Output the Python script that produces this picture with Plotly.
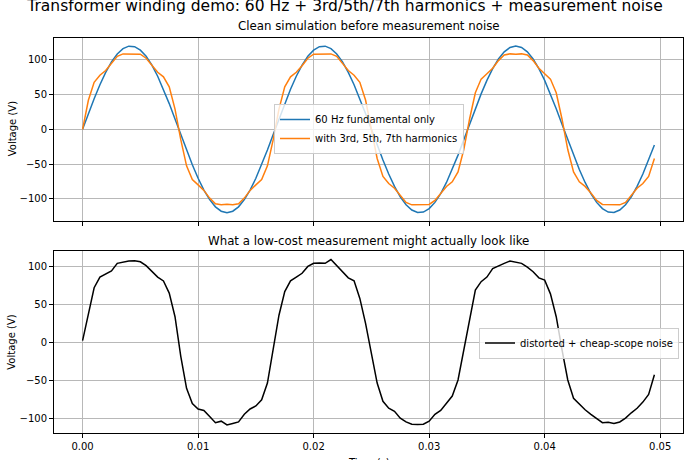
import plotly.graph_objects as go

# ---------------- data ----------------
time_s = [round(i * 0.0005, 4) for i in range(100)]

fundamental_v = [
    0, 22.5, 44.2, 64.3, 82.1, 97.1, 108.6, 116.2, 119.8, 119.1,
    114.1, 105.2, 92.5, 76.5, 57.8, 37.1, 15.0, -7.5, -29.8, -51.1,
    -70.5, -87.5, -101.3, -111.6, -117.9, -120.0, -117.9, -111.6, -101.3, -87.5,
    -70.5, -51.1, -29.8, -7.5, 15.0, 37.1, 57.8, 76.5, 92.5, 105.2,
    114.1, 119.1, 119.8, 116.2, 108.6, 97.1, 82.1, 64.3, 44.2, 22.5,
    0, -22.5, -44.2, -64.3, -82.1, -97.1, -108.6, -116.2, -119.8, -119.1,
    -114.1, -105.2, -92.5, -76.5, -57.8, -37.1, -15.0, 7.5, 29.8, 51.1,
    70.5, 87.5, 101.3, 111.6, 117.9, 120.0, 117.9, 111.6, 101.3, 87.5,
    70.5, 51.1, 29.8, 7.5, -15.0, -37.1, -57.8, -76.5, -92.5, -105.2,
    -114.1, -119.1, -119.8, -116.2, -108.6, -97.1, -82.1, -64.3, -44.2, -22.5,
]

harmonic_v = [
    0, 41.9, 67.8, 78.0, 84.7, 95.3, 105.2, 108.7, 108.2, 108.4,
    108.2, 102.4, 91.5, 82.2, 75.6, 61.3, 29.1, -14.9, -52.6, -72.4,
    -80.0, -87.9, -99.0, -107.1, -108.7, -108.0, -108.7, -107.1, -99.0, -87.9,
    -80.0, -72.4, -52.6, -14.9, 29.1, 61.3, 75.6, 82.2, 91.5, 102.4,
    108.2, 108.4, 108.2, 108.7, 105.2, 95.3, 84.7, 78.0, 67.8, 41.9,
    0, -41.9, -67.8, -78.0, -84.7, -95.3, -105.2, -108.7, -108.2, -108.4,
    -108.2, -102.4, -91.5, -82.2, -75.6, -61.3, -29.1, 14.9, 52.6, 72.4,
    80.0, 87.9, 99.0, 107.1, 108.7, 108.0, 108.7, 107.1, 99.0, 87.9,
    80.0, 72.4, 52.6, 14.9, -29.1, -61.3, -75.6, -82.2, -91.5, -102.4,
    -108.2, -108.4, -108.2, -108.7, -105.2, -95.3, -84.7, -78.0, -67.8, -41.9,
]

noisy_v = [
    2.6, 38, 72, 86, 90, 94, 104, 106, 107, 107.5,
    106, 101, 93, 86, 81, 65, 34, -18, -60, -80,
    -87, -89, -97, -105, -103, -108, -106, -104, -94, -87,
    -83, -75, -53, -6, 36, 67, 81, 86, 91, 100,
    104, 104.5, 104, 109, 101, 93, 85, 81, 58, 25,
    -14, -53, -77, -86, -90, -99, -104, -107, -107.5, -107,
    -103, -94, -89, -80, -70, -49, -9, 34, 69, 80,
    86, 97, 101, 104, 107, 106, 104, 99, 93, 85,
    82, 64, 34, -9, -49, -73, -81, -88, -94, -100,
    -105, -104.5, -106, -104, -99, -92, -86, -78, -68, -42,
]

x_ticks = [0.0, 0.01, 0.02, 0.03, 0.04, 0.05]
x_tick_labels = ["0.00", "0.01", "0.02", "0.03", "0.04", "0.05"]
y_ticks = [-100, -50, 0, 50, 100]

suptitle = "Transformer winding demo: 60 Hz + 3rd/5th/7th harmonics + measurement noise"
title_top = "Clean simulation before measurement noise"
title_bottom = "What a low-cost measurement might actually look like"

# ---------------- layout helpers ----------------
W, H = 690, 460
L, R = 54, 7
FONT = "DejaVu Sans"


def px_x(x):
    return (x - L) / (W - L - R)


def px_y(y):
    return 1 - y / H


fig = go.Figure()
fig.add_trace(go.Scatter(x=time_s, y=fundamental_v, mode="lines",
                         name="60 Hz fundamental only",
                         line=dict(color="#1f77b4", width=1.5),
                         xaxis="x", yaxis="y", legend="legend"))
fig.add_trace(go.Scatter(x=time_s, y=harmonic_v, mode="lines",
                         name="with 3rd, 5th, 7th harmonics",
                         line=dict(color="#ff7f0e", width=1.5),
                         xaxis="x", yaxis="y", legend="legend"))
fig.add_trace(go.Scatter(x=time_s, y=noisy_v, mode="lines",
                         name="distorted + cheap-scope noise",
                         line=dict(color="black", width=1.5),
                         xaxis="x2", yaxis="y2", legend="legend2"))

axis_common = dict(showline=True, linecolor="black", linewidth=1, mirror=True,
                   ticks="outside", ticklen=4, tickwidth=1, tickcolor="black",
                   showgrid=True, gridcolor="#b8b8b8", gridwidth=0.8,
                   zeroline=False, tickfont=dict(family=FONT, size=10, color="black"))

xr = [-0.002475, 0.051975]
fig.update_layout(
    width=W, height=H,
    margin=dict(l=L, r=R, t=0, b=0),
    paper_bgcolor="white", plot_bgcolor="white",
    font=dict(family=FONT, size=10, color="black"),
    xaxis=dict(domain=[0, 1], range=xr, tickvals=x_ticks, showticklabels=False,
               anchor="y", **axis_common),
    yaxis=dict(domain=[px_y(221), px_y(37.7)], range=[-132, 132], tickvals=y_ticks,
               anchor="x", **axis_common),
    xaxis2=dict(domain=[0, 1], range=xr, tickvals=x_ticks, ticktext=x_tick_labels,
                anchor="y2", **axis_common),
    yaxis2=dict(domain=[px_y(433.3), px_y(251)], range=[-118.9, 120.2], tickvals=y_ticks,
                anchor="x2", **axis_common),
    showlegend=True,
    legend=dict(x=px_x(369), xanchor="center", y=px_y(129), yanchor="middle",
                bgcolor="rgba(255,255,255,0.8)", bordercolor="#cccccc", borderwidth=1,
                font=dict(family=FONT, size=10, color="black"), tracegroupgap=0),
    legend2=dict(x=px_x(679), xanchor="right", y=px_y(343), yanchor="middle",
                 bgcolor="rgba(255,255,255,0.8)", bordercolor="#cccccc", borderwidth=1,
                 font=dict(family=FONT, size=10, color="black")),
    title=dict(text=suptitle, x=0.5, xref="container", xanchor="center",
               y=1 - 5.5 / H, yref="container", yanchor="middle",
               font=dict(family=FONT, size=15.5, color="black")),
)

annotations = [
    dict(text=title_top, x=0.5, y=px_y(26), xref="paper", yref="paper",
         xanchor="center", yanchor="middle", showarrow=False,
         font=dict(family=FONT, size=11.8, color="black")),
    dict(text=title_bottom, x=0.5, y=px_y(240.5), xref="paper", yref="paper",
         xanchor="center", yanchor="middle", showarrow=False,
         font=dict(family=FONT, size=11.8, color="black")),
    dict(text="Voltage (V)", x=px_x(12), y=px_y(129.3), xref="paper", yref="paper",
         xanchor="center", yanchor="middle", textangle=-90, showarrow=False,
         font=dict(family=FONT, size=10, color="black")),
    dict(text="Voltage (V)", x=px_x(12), y=px_y(342.7), xref="paper", yref="paper",
         xanchor="center", yanchor="middle", textangle=-90, showarrow=False,
         font=dict(family=FONT, size=10, color="black")),
    dict(text="Time (s)", x=0.5, y=px_y(462.5), xref="paper", yref="paper",
         xanchor="center", yanchor="middle", showarrow=False,
         font=dict(family=FONT, size=10, color="black")),
]
fig.update_layout(annotations=annotations)

fig.write_html("out.html")
